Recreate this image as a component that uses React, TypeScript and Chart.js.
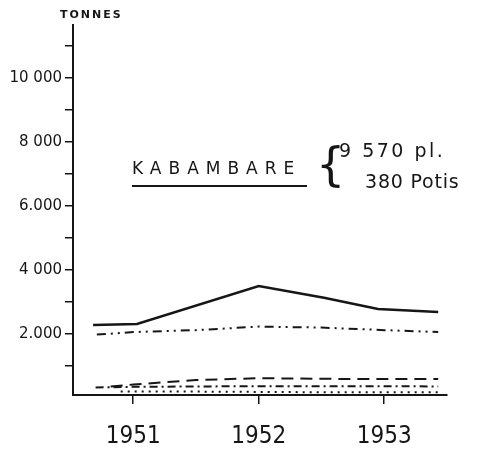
import React, { useEffect, useRef } from "react";
import { Chart, registerables } from "chart.js";

Chart.register(...registerables);

// ---- data ----
const xTickYears = [1951, 1952, 1953];
const yTickValues = [1000, 2000, 3000, 4000, 5000, 6000, 7000, 8000, 9000, 10000, 11000];
const yTickLabels = ["", "2.000", "", "4 000", "", "6.000", "", "8 000", "", "10 000", ""];

const solidX = [1950.68, 1951.03, 1952, 1952.52, 1952.95, 1953.43];
const solidY = [2280, 2310, 3500, 3130, 2780, 2690];

const dashDotDotX = [1950.71, 1951, 1951.5, 1952, 1952.5, 1953, 1953.43];
const dashDotDotY = [1980, 2060, 2120, 2230, 2200, 2120, 2060];

const dashedX = [1950.82, 1951, 1951.5, 1952, 1952.5, 1953, 1953.43];
const dashedY = [360, 420, 560, 620, 600, 590, 590];

const dashDotX = [1950.7, 1951, 1951.5, 1952, 1952.5, 1953, 1953.43];
const dashDotY = [330, 350, 360, 370, 370, 370, 360];

const dottedX = [1950.9, 1951.5, 1952, 1952.5, 1953, 1953.43];
const dottedY = [200, 200, 190, 180, 180, 180];

const axisTitle = "TONNES";
const placeName = "KABAMBARE";
const noteLine1 = "9 570 pl.";
const noteLine2 = "380 Potis";

const INK = "#161616";

function pts(xs: number[], ys: number[]) {
  return xs.map((x, i) => ({ x, y: ys[i] }));
}

const textPlugin = {
  id: "handText",
  afterDraw(chart: any) {
    const ctx = chart.ctx as CanvasRenderingContext2D;
    ctx.save();
    ctx.fillStyle = INK;
    ctx.strokeStyle = INK;
    // axis title
    ctx.font = "bold 11px 'DejaVu Sans'";
    (ctx as any).letterSpacing = "2px";
    ctx.textAlign = "left";
    ctx.textBaseline = "middle";
    ctx.fillText(axisTitle, 60, 15);
    // place name
    ctx.font = "17px 'DejaVu Sans'";
    (ctx as any).letterSpacing = "7px";
    ctx.textBaseline = "alphabetic";
    ctx.fillText(placeName, 132, 174);
    ctx.lineWidth = 2;
    ctx.beginPath();
    ctx.moveTo(132, 186);
    ctx.lineTo(307, 186);
    ctx.stroke();
    // brace
    (ctx as any).letterSpacing = "0px";
    ctx.font = "46px 'DejaVu Sans'";
    ctx.textBaseline = "middle";
    ctx.fillText("{", 316, 168);
    // notes
    ctx.font = "19px 'DejaVu Sans'";
    (ctx as any).letterSpacing = "2.5px";
    ctx.textBaseline = "alphabetic";
    ctx.fillText(noteLine1, 339, 157);
    (ctx as any).letterSpacing = "0.8px";
    ctx.fillText(noteLine2, 365, 188);
    ctx.restore();
  },
};

export default function App() {
  const ref = useRef<HTMLCanvasElement | null>(null);

  useEffect(() => {
    if (!ref.current) return;
    const common = {
      borderColor: INK,
      pointRadius: 0,
      tension: 0,
      fill: false,
    };
    const chart = new Chart(ref.current, {
      type: "line",
      data: {
        datasets: [
          { ...common, data: pts(solidX, solidY), borderWidth: 2.5 },
          { ...common, data: pts(dashDotDotX, dashDotDotY), borderWidth: 2, borderDash: [9, 5, 2, 5, 2, 5] },
          { ...common, data: pts(dashedX, dashedY), borderWidth: 2, borderDash: [12, 7] },
          { ...common, data: pts(dashDotX, dashDotY), borderWidth: 2, borderDash: [8, 4, 2, 4] },
          { ...common, data: pts(dottedX, dottedY), borderWidth: 2, borderDash: [2, 5] },
        ] as any,
      },
      options: {
        animation: false,
        responsive: false,
        maintainAspectRatio: false,
        layout: { padding: { top: 25, right: 39, left: 0, bottom: 0 } },
        plugins: { legend: { display: false }, tooltip: { enabled: false } },
        scales: {
          x: {
            type: "linear",
            min: 1950.52,
            max: 1953.5,
            afterBuildTicks: (s: any) => {
              s.ticks = xTickYears.map((v) => ({ value: v }));
            },
            afterFit: (s: any) => {
              s.height = 54;
            },
            grid: { drawOnChartArea: false, tickLength: 9, color: INK, lineWidth: 1.5 },
            border: { color: INK, width: 2 },
            ticks: {
              color: INK,
              font: { family: "DejaVu Sans Condensed, DejaVu Sans", size: 24 },
              padding: 18,
              maxRotation: 0,
              callback: (v: any) => String(v),
            },
          },
          y: {
            type: "linear",
            min: 94,
            max: 11650,
            afterBuildTicks: (s: any) => {
              s.ticks = yTickValues.map((v) => ({ value: v }));
            },
            afterFit: (s: any) => {
              s.width = 73;
            },
            grid: { drawOnChartArea: false, tickLength: 8, color: INK, lineWidth: 1.5 },
            border: { color: INK, width: 2 },
            ticks: {
              color: INK,
              font: { family: "DejaVu Sans", size: 15 },
              padding: 3,
              autoSkip: false,
              callback: (v: any) => {
                const i = yTickValues.indexOf(Number(v));
                return i >= 0 ? yTickLabels[i] : "";
              },
            },
          },
        },
      } as any,
      plugins: [textPlugin],
    });
    return () => chart.destroy();
  }, []);

  return (
    <div style={{ position: "fixed", left: 0, top: 0, width: 486, height: 449, background: "#fff" }}>
      <canvas ref={ref} width={486} height={449} />
    </div>
  );
}
